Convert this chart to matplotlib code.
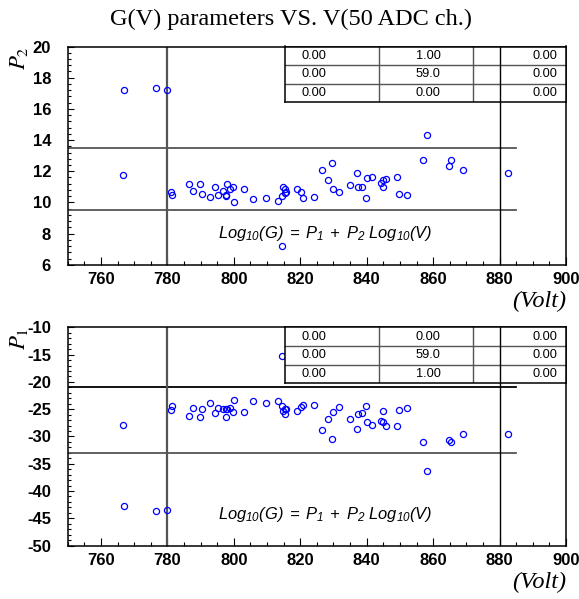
import numpy as np
import matplotlib
matplotlib.use("Agg")
from matplotlib import pyplot as plt
from matplotlib.ticker import MultipleLocator

# voltage of each channel (50 ADC ch.) and the two fit parameters
volts = [766.8, 776.6, 779.9, 766.5, 781.1, 781.5, 786.6, 787.7, 789.7, 790.3,
         792.8, 794.3, 795.3, 796.6, 797.7, 797.7, 797.9, 799.0, 799.9, 800.0,
         803.2, 805.9, 809.7, 813.4, 814.5, 814.9, 815.5, 815.6, 815.4, 814.5,
         819.0, 820.2, 820.8, 824.1, 826.6, 829.7, 828.5, 830.0, 831.7, 835.0,
         837.1, 837.3, 838.6, 839.9, 840.2, 841.5, 844.3, 845.0, 845.8, 844.9,
         849.0, 849.7, 852.0, 858.2, 856.9, 865.5, 864.8, 869.0, 882.5]
p2 = [17.19, 17.33, 17.21, 11.75, 10.65, 10.46, 11.19, 10.72, 11.19, 10.53,
      10.33, 10.96, 10.48, 10.74, 10.46, 10.40, 11.19, 10.85, 10.98, 10.01,
      10.87, 10.25, 10.29, 10.08, 10.42, 10.98, 10.85, 10.70, 10.60, 7.23,
      10.87, 10.67, 10.29, 10.38, 12.07, 12.56, 11.47, 10.83, 10.68, 11.10,
      11.86, 10.96, 10.96, 10.31, 11.54, 11.62, 11.23, 11.47, 11.51, 10.98,
      11.62, 10.53, 10.48, 14.32, 12.73, 12.73, 12.33, 12.05, 11.86]
p1 = [-42.8, -43.7, -43.5, -27.97, -25.16, -24.37, -26.26, -24.79, -26.38, -25.04,
      -23.88, -25.65, -24.79, -25.04, -25.04, -26.5, -25.04, -24.79, -25.47, -23.27,
      -25.53, -23.57, -23.93, -23.57, -24.43, -25.3, -25.8, -25.0, -24.9, -15.3,
      -25.3, -24.55, -24.25, -24.18, -28.77, -30.54, -26.81, -25.59, -24.67, -26.75,
      -28.58, -25.95, -25.7, -24.37, -27.36, -27.85, -27.23, -27.41, -28.1, -25.4,
      -28.15, -25.1, -24.85, -36.34, -31.03, -31.03, -30.6, -29.5, -29.6]

table_top = [["0.00", "1.00", "0.00"], ["0.00", "59.0", "0.00"], ["0.00", "0.00", "0.00"]]
table_bot = [["0.00", "0.00", "0.00"], ["0.00", "59.0", "0.00"], ["0.00", "1.00", "0.00"]]

plt.rcParams['axes.unicode_minus'] = False
plt.rcParams['mathtext.fontset'] = 'custom'
plt.rcParams['mathtext.it'] = 'Liberation Sans:italic'
plt.rcParams['mathtext.rm'] = 'Liberation Sans:italic'

W, H = 579, 599
fig = plt.figure(figsize=(W / 100, H / 100), dpi=100)


def fx(px):
    return px / W


def fy(py):
    return 1 - py / H


fig.text(fx(291), fy(19), "G(V) parameters VS. V(50 ADC ch.)", family="Liberation Serif",
         fontsize=17.5, ha="center", va="center")


def panel(top_px, y, ylim, ymaj, ymin, cuts, cut_colors, label, table):
    left, right, bot = 67.7, 566.0, top_px + 218.3
    ax = fig.add_axes([fx(left), fy(bot), fx(right - left), (bot - top_px) / H])
    ax.set_xlim(750, 900)
    ax.set_ylim(*ylim)
    ax.xaxis.set_major_locator(MultipleLocator(20))
    ax.xaxis.set_minor_locator(MultipleLocator(5))
    ax.yaxis.set_major_locator(MultipleLocator(ymaj))
    ax.yaxis.set_minor_locator(MultipleLocator(ymin))
    ax.tick_params(axis="both", which="both", direction="in", top=False, right=False, width=0.8)
    ax.tick_params(axis="x", which="major", length=6, pad=5)
    ax.tick_params(axis="x", which="minor", length=3)
    ax.tick_params(axis="y", which="major", length=4.5, pad=12)
    ax.tick_params(axis="y", which="minor", length=2.3)
    for s in ax.spines.values():
        s.set_linewidth(1.1)
    for t in ax.get_xticklabels() + ax.get_yticklabels():
        t.set_family("Liberation Sans")
        t.set_weight("bold")
        t.set_fontsize(12)
    xt = ax.get_xticklabels()
    xt[0].set_visible(False)

    # cut lines
    for c, col in zip(cuts, cut_colors):
        ax.plot([750, 885], [c, c], color=col, lw=1.3, zorder=2)
    ax.axvline(780, color="#555555", lw=1.6, zorder=2)

    ax.plot(volts, y, "o", mfc="none", mec="#0000ff", mew=0.9, ms=4.4, zorder=4, clip_on=False)

    # stats table
    tl, tr = 285.0, 566.0
    cols = [285.0, 379.0, 473.0, 566.0]
    rows = [top_px, top_px + 18.6, top_px + 37.2, top_px + 55.8]
    tax = fig.add_axes([fx(tl), fy(rows[-1]), fx(tr - tl), (rows[-1] - rows[0]) / H])
    tax.set_xlim(tl, tr)
    tax.set_ylim(rows[-1], rows[0])
    tax.set_facecolor("white")
    tax.set_xticks([])
    tax.set_yticks([])
    for s in tax.spines.values():
        s.set_linewidth(1.1)
    for r in rows[1:-1]:
        tax.plot([tl, tr], [r, r], color="#555555", lw=1.0)
    for c in cols[1:-1]:
        tax.plot([c, c], [rows[0], rows[-1]], color="#555555", lw=1.0)
    for i, row in enumerate(table):
        yc = (rows[i] + rows[i + 1]) / 2
        tax.text(302, yc, row[0], ha="left", va="center", family="Liberation Sans", fontsize=9.2)
        tax.text(428, yc, row[1], ha="center", va="center", family="Liberation Sans", fontsize=9.2)
        tax.text(557, yc, row[2], ha="right", va="center", family="Liberation Sans", fontsize=9.2)
    # 880 line drawn over the table
    x880 = left + (880 - 750) * (right - left) / 150
    tax.plot([x880, x880], [rows[0], rows[-1]], color="black", lw=1.0)
    ax.axvline(880, color="black", lw=1.0, zorder=2)

    fig.text(fx(218), fy(top_px + 191.5), r"$Log_{10}(G)\;=\;P_1\;+\;P_2\ Log_{10}(V)$",
             fontsize=11.9, ha="left", va="baseline")
    fig.text(fx(566), fy(bot + 37), "(Volt)", family="Liberation Serif", style="italic",
             fontsize=17.5, ha="right", va="center")
    fig.text(fx(18), fy(top_px), label, rotation=90, fontsize=16.5, ha="center", va="top",
             math_fontfamily="stix")
    return ax


panel(46.5, p2, (6, 20), 2, 0.4, [13.5, 9.5], ["#555555", "#555555"], r"$P_2$", table_top)
panel(327.3, p1, (-50, -10), 5, 1, [-21, -33], ["black", "#555555"], r"$P_1$", table_bot)

plt.savefig("out.png", dpi=100)
